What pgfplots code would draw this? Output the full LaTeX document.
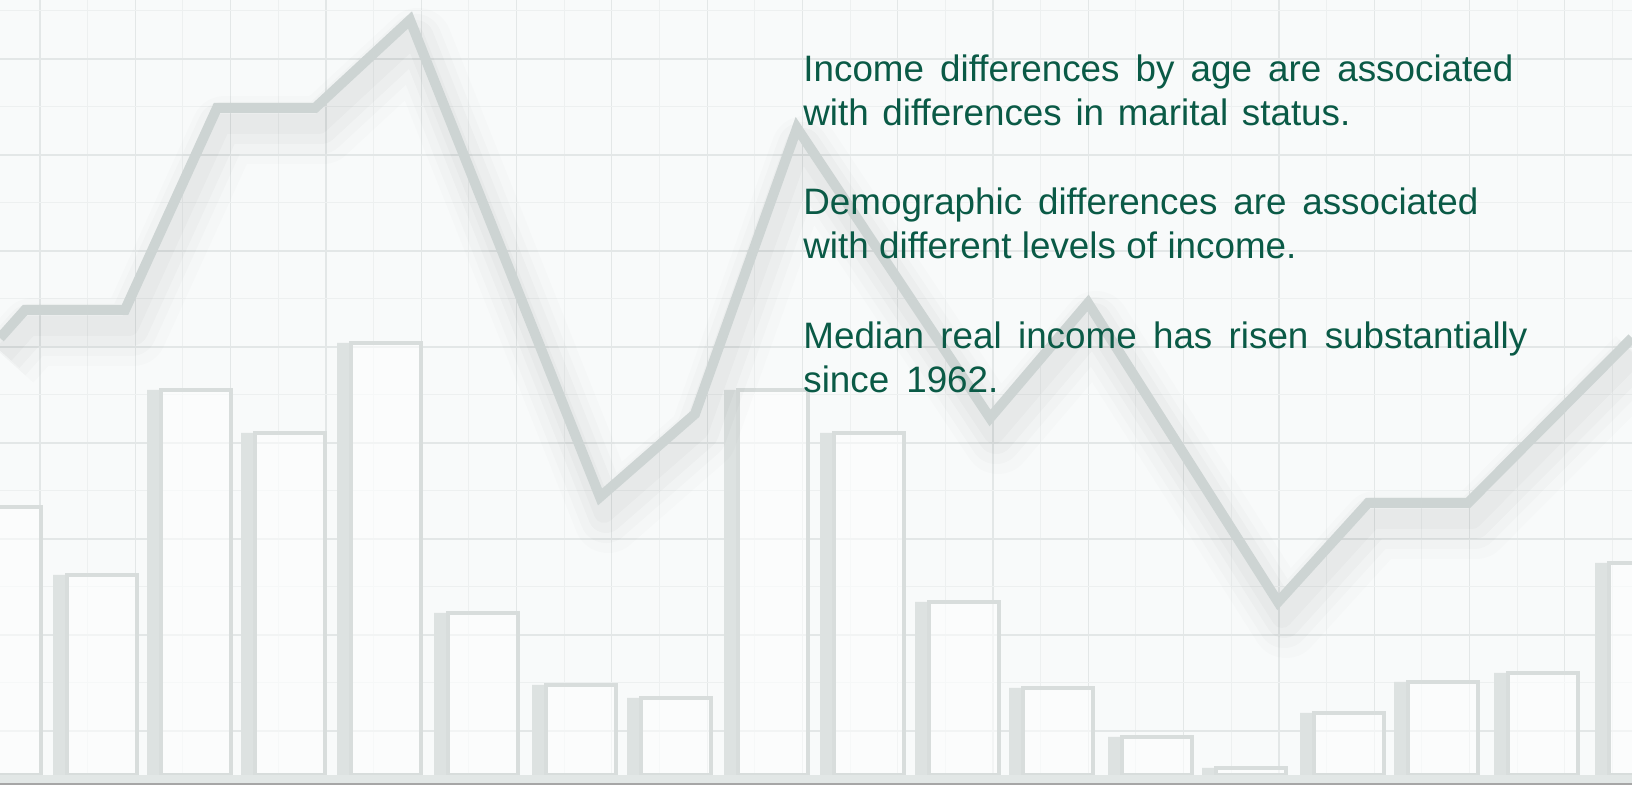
\documentclass[border=0pt]{standalone}
\usepackage{pgfplots}
\pgfplotsset{compat=1.18}
\usepackage{pgfplotstable}
\usepackage{fontspec}
\setmainfont{Liberation Sans}
\definecolor{bgcol}{HTML}{F8FAFA}
\definecolor{gridmaj}{HTML}{E3E7E7}
\definecolor{gridmin}{HTML}{EDF0F0}
\definecolor{barline}{HTML}{D8DDDC}
\definecolor{barside}{HTML}{DDE2E1}
\definecolor{linecol}{HTML}{CDD4D3}
\definecolor{txt}{HTML}{0A5A46}

\pgfplotstableread{
x h
-1 268
95 200
189 385
283 342
379 432
476 162
574 90
669 77
766 385
862 342
957 173
1051 87
1150 38
1244 7
1342 62
1436 93
1536 102
1637 212
}\bars

\pgfplotstableread{
x y
0 437
25 465
125 465
217 667
315 667
410 755
600 278
695 361
797 647
990 357
1088 472
1278 173
1368 272
1468 272
1632 437
}\linedata

\newcommand{\tline}[3]{\node[anchor=base west,inner sep=0pt,text=txt] at (axis cs:803,#1) {\fontsize{18.4pt}{22pt}\selectfont\makebox[#2pt][s]{#3}};}

\begin{document}
\begin{tikzpicture}
\begin{axis}[name=ax,
 width=816pt, height=392.5pt, scale only axis,
 xmin=0, xmax=1632, ymin=-10, ymax=775,
 axis line style={draw=none},
 xtick={40,135.3,...,1640}, ytick={44,140,...,780},
 minor x tick num=1, minor y tick num=1,
 xticklabels={}, yticklabels={},
 major tick style={draw=none}, minor tick style={draw=none},
 grid=both,
 major grid style={gridmaj, line width=0.6pt},
 minor grid style={gridmin, line width=0.5pt},
 axis background/.style={fill=bgcol},
 clip=true,
]
% bars: side face and front
\addplot[ybar, bar width=14, bar shift=-35, fill=barside, draw=none] table[x=x,y=h]{\bars};
\addplot[ybar, bar width=70, bar shift=7, fill=white, fill opacity=0.55, draw=barline, line width=1.8pt] table[x=x,y=h]{\bars};
% bottom band
\fill[barside!80!bgcol] (axis cs:0,-8) rectangle (axis cs:1632,0);
\draw[black!35, line width=1pt] (axis cs:0,-9.5) -- (axis cs:1632,-9.5);
% soft line shadow
\addplot[no marks, black, opacity=0.012, line width=34pt, yshift=-11pt, xshift=4pt, line join=round] table[x=x,y=y]{\linedata};
\addplot[no marks, black, opacity=0.015, line width=26pt, yshift=-10pt, xshift=3pt, line join=round] table[x=x,y=y]{\linedata};
\addplot[no marks, black, opacity=0.018, line width=18pt, yshift=-9pt, xshift=3pt, line join=round] table[x=x,y=y]{\linedata};
\addplot[no marks, black, opacity=0.02, line width=10pt, yshift=-8pt, xshift=2pt, line join=round] table[x=x,y=y]{\linedata};
% line
\addplot[no marks, linecol, line width=5pt, line join=miter] table[x=x,y=y]{\linedata};
% text
\tline{693}{355}{Income differences by age are associated}
\tline{649}{273.5}{with differences in marital status.}
\tline{560}{337.5}{Demographic differences are associated}
\tline{516}{246.5}{with different levels of income.}
\tline{426}{362}{Median real income has risen substantially}
\tline{382}{97.5}{since 1962.}
\end{axis}
\pgfresetboundingbox
\path (ax.south west) rectangle (ax.north east);
\end{tikzpicture}
\end{document}
